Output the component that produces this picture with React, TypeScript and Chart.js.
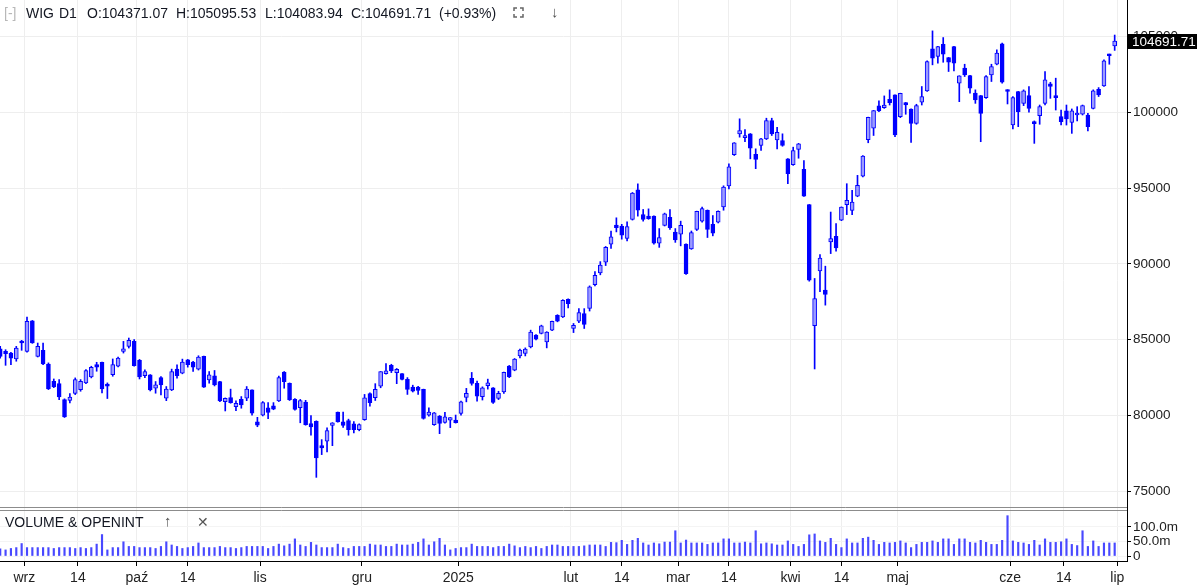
import React, { useEffect, useRef } from 'react';
import { Chart, registerables } from 'chart.js';

Chart.register(...registerables);

// Daily WIG candles, first candle = 26 Aug 2024, candle index 0 = 2 Sep 2024
const FIRST_INDEX = -5;

const OPEN = [
  84390, 84230, 84120, 83730, 84890, 84230, 86250, 83900, 84300, 83400,
  82260, 82100, 81050, 80990, 81450, 81710, 82150, 82540, 83360, 83510,
  82080, 82700, 83250, 84230, 84560, 84890, 83640, 82620, 82680, 81800,
  82500, 81140, 81690, 83060, 82800, 83680, 83520, 83060, 83900, 82350,
  82620, 82240, 80920, 81180, 80590, 81070, 81140, 81690, 79590, 80030,
  80500, 80630, 80960, 82860, 82130, 81060, 80510, 80880, 79470, 79620,
  78010, 78300, 79340, 80220, 79580, 79670, 79450, 79070, 79730, 81440,
  81170, 81940, 82760, 83310, 82830, 82760, 82380, 81870, 81870, 81720,
  80020, 79400, 79970, 79550, 79700, 79700, 80140, 81200, 82450, 82120,
  81240, 81960, 81830, 81130, 81560, 83260, 82990, 83930, 84090, 84530,
  85300, 85410, 84860, 85630, 86610, 86500, 87670, 85740, 86220, 86720,
  87070, 88630, 89410, 90110, 91300, 92560, 92500, 91680, 92930, 94890,
  93260, 93150, 93150, 91370, 92540, 93080, 92100, 91960, 91300, 90980,
  92280, 92820, 93540, 92610, 92760, 93760, 95150, 97200, 98580, 98320,
  98580, 97220, 97810, 98250, 99450, 98180, 98140, 96930, 96540, 97550,
  96230, 93910, 85920, 89540, 88270, 91450, 91820, 92880, 93910, 93530,
  94470, 95790, 98200, 98950, 100420, 100310, 100860, 101150, 99710, 100640,
  100220, 99270, 100660, 101410, 104190, 103680, 104490, 103610, 104340, 101920,
  102910, 102420, 101260, 101100, 100970, 102470, 103170, 104520, 101480, 99160,
  101370, 100590, 101100, 99380, 99780, 100590, 101870, 101040, 99710, 100090,
  99340, 99820, 99870, 99820, 100260, 101520, 101740, 103830, 104371.07,
];

const HIGH = [
  84560, 84340, 84170, 84560, 84960, 86490, 86270, 84780, 84780, 83470,
  82410, 82370, 81100, 81450, 82480, 82370, 83030, 83250, 83510, 83530,
  82150, 83730, 83860, 84890, 85110, 85000, 83700, 83010, 82700, 82240,
  82570, 81910, 83060, 83350, 83720, 83700, 83570, 83940, 83920, 82900,
  82970, 82260, 81160, 81740, 80960, 81250, 81910, 81700, 79880, 80920,
  80850, 80850, 82600, 82900, 82150, 81120, 81060, 81000, 80000, 79650,
  78410, 79190, 79530, 80230, 80220, 79760, 79600, 79450, 81390, 81500,
  82100, 82900, 83420, 83380, 83100, 82770, 82500, 82000, 81930, 81740,
  80510, 80200, 80000, 80210, 79870, 80030, 80950, 81790, 82840, 82270,
  81890, 82400, 81850, 81600, 82860, 83300, 83760, 84380, 84460, 85630,
  85340, 85960, 85530, 86230, 86650, 87640, 87700, 86070, 87050, 87050,
  88550, 89500, 90150, 91150, 92170, 93040, 92610, 92780, 94710, 95280,
  93590, 93630, 93170, 92330, 93350, 93590, 92330, 92820, 91320, 92170,
  93480, 93740, 93560, 93190, 93500, 95150, 96600, 98000, 99570, 98860,
  98600, 97590, 98290, 99610, 99610, 99010, 98580, 96950, 97700, 97950,
  96820, 93920, 89040, 90620, 89850, 93420, 92660, 93760, 95290, 94850,
  95840, 97150, 99680, 100120, 100750, 101080, 101480, 101160, 101260, 100650,
  100230, 100530, 101700, 103390, 105370, 104350, 104930, 103620, 104350, 102410,
  103170, 102430, 101480, 101110, 102420, 103170, 104120, 104560, 101490, 101040,
  101380, 101480, 101700, 99430, 100480, 102690, 101980, 102250, 100150, 100480,
  100220, 100370, 100480, 99930, 101480, 101630, 103460, 103840, 105095.53,
];

const LOW = [
  83790, 83310, 83360, 83580, 84300, 84170, 84760, 83860, 83360, 81710,
  81840, 81050, 79870, 80830, 81380, 81600, 82100, 82480, 82920, 81490,
  81120, 82590, 83200, 84120, 84450, 83250, 82410, 82500, 81620, 81470,
  81360, 80980, 81640, 82460, 82750, 83190, 82900, 83000, 81850, 82130,
  81950, 80920, 80300, 80810, 80320, 80480, 80980, 80030, 79260, 79970,
  79790, 80380, 80920, 81800, 80990, 80350, 79520, 79360, 78700, 75920,
  77420, 77600, 78010, 79560, 79220, 78700, 78850, 78990, 79680, 80620,
  80990, 81830, 82720, 82830, 82100, 82350, 81390, 81550, 81390, 79760,
  79950, 79350, 78800, 79500, 79200, 79500, 80030, 80900, 82000, 80950,
  81020, 81740, 80800, 81050, 81460, 82500, 82950, 83800, 83930, 84460,
  84990, 85380, 84460, 85600, 86180, 86460, 87090, 85470, 86130, 85740,
  86890, 88550, 89280, 89890, 91020, 92110, 91630, 91520, 92890, 93150,
  92820, 92940, 91300, 91090, 92500, 92280, 91420, 91190, 89300, 90960,
  92200, 92760, 91740, 91850, 92700, 93540, 94950, 97150, 98360, 98070,
  96930, 96280, 97480, 98200, 98470, 97590, 97760, 95290, 96500, 96970,
  94450, 88860, 83070, 88160, 87280, 90680, 90840, 92850, 93250, 93250,
  94430, 95740, 97990, 98470, 100040, 100260, 100480, 98390, 99650, 99870,
  98020, 99210, 100480, 101370, 103130, 103240, 103300, 102690, 102730, 100700,
  102360, 101260, 100590, 98060, 100920, 102030, 103130, 101920, 100550, 98900,
  99050, 100440, 100000, 97950, 99210, 100480, 100920, 100150, 99160, 99160,
  98610, 99430, 99820, 98770, 100220, 101040, 101700, 103170, 104083.94,
];

const CLOSE = [
  83900, 84080, 83790, 84450, 84780, 86210, 84780, 84560, 83400, 81750,
  81890, 81230, 79910, 81210, 82370, 82260, 82960, 83180, 83180, 81750,
  81930, 83360, 83790, 84390, 84960, 83290, 82540, 82900, 81690, 82020,
  82020, 81740, 82900, 82620, 83520, 83350, 83190, 83850, 81870, 82680,
  82020, 80960, 81140, 80850, 80810, 80700, 81740, 80150, 79370, 80850,
  80200, 80410, 82500, 82240, 81050, 80400, 80990, 79400, 79250, 77200,
  77860, 79010, 79520, 79580, 79340, 79070, 79070, 79400, 81170, 80840,
  81720, 82890, 82940, 82940, 83050, 82380, 81720, 81610, 81660, 79800,
  80220, 80180, 79480, 79920, 79860, 79530, 80900, 81460, 82120, 81280,
  81830, 82160, 80870, 81460, 82840, 82550, 83720, 84310, 84380, 85510,
  85030, 85910, 85510, 86220, 86220, 87600, 87380, 85950, 86790, 86000,
  88480, 89240, 89930, 91090, 91780, 92390, 91890, 92460, 94670, 93540,
  92930, 92980, 91370, 91740, 93310, 92390, 91580, 92540, 89350, 92070,
  93470, 93650, 92280, 92020, 93470, 95070, 96400, 97990, 98800, 98470,
  97630, 96890, 98250, 99450, 98580, 98680, 97810, 95950, 97480, 97920,
  94470, 88930, 87720, 90390, 87980, 91670, 91050, 93750, 94190, 94080,
  95180, 97110, 99670, 100110, 100090, 100480, 100640, 98500, 101250, 100480,
  99270, 100440, 101040, 103350, 103570, 104340, 103830, 103300, 103240, 102400,
  102470, 101590, 100810, 99930, 102360, 103020, 103900, 101980, 101370, 100970,
  100040, 101410, 100260, 99250, 100370, 102140, 101700, 100970, 99380, 99560,
  100090, 99930, 100440, 99050, 101410, 101150, 103390, 103730, 104691.71,
];

// volume in millions
const VOLUME_M = [
  25, 21, 26, 29, 43, 29, 29, 29, 29, 29,
  26, 29, 29, 29, 26, 29, 26, 29, 41, 74,
  21, 29, 29, 49, 33, 33, 29, 29, 29, 26,
  33, 49, 38, 33, 26, 29, 33, 45, 29, 29,
  29, 33, 29, 29, 26, 29, 33, 33, 33, 33,
  26, 33, 41, 35, 41, 59, 38, 33, 47, 38,
  29, 29, 29, 41, 29, 26, 33, 33, 33, 41,
  38, 38, 33, 33, 41, 38, 38, 41, 47, 59,
  38, 49, 61, 38, 21, 26, 29, 29, 41, 33,
  33, 33, 29, 33, 33, 41, 35, 29, 33, 29,
  33, 26, 33, 38, 38, 33, 33, 33, 33, 35,
  38, 38, 38, 33, 47, 46, 54, 40, 54, 61,
  45, 38, 45, 42, 48, 48, 87, 45, 55, 45,
  45, 45, 40, 45, 45, 59, 59, 45, 45, 48,
  45, 87, 42, 45, 42, 38, 38, 52, 40, 33,
  40, 73, 76, 52, 47, 61, 40, 29, 59, 45,
  45, 61, 65, 54, 40, 47, 45, 47, 52, 45,
  29, 40, 47, 47, 52, 47, 59, 59, 40, 59,
  59, 47, 45, 54, 47, 40, 40, 54, 139, 52,
  47, 45, 40, 54, 38, 59, 47, 47, 49, 59,
  40, 36, 87, 33, 52, 33, 45, 45, 45,
];

const X_TICK_POS = [-0.5, 9.5, 20.5, 30, 43.5, 62.5, 80.5, 101.5, 111, 121.5, 131, 142.5, 152, 162.5, 183.5, 193.5, 203.5];
const X_TICK_LABELS = ['wrz', '14', 'paź', '14', 'lis', 'gru', '2025', 'lut', '14', 'mar', '14', 'kwi', '14', 'maj', 'cze', '14', 'lip'];
const PRICE_TICKS = [75000, 80000, 85000, 90000, 95000, 100000, 105000];
const VOLUME_TICKS = [0, 50, 100];

const FONT = '"Liberation Sans", Arial, sans-serif';
const BLUE = '#0000ff';
const HOLLOW = '#9c9cff';
const VOL_COLOR = '#4848ff';
const GRID = '#eeeeee';

export default function App() {
  const ref = useRef<HTMLCanvasElement | null>(null);

  useEffect(() => {
    if (!ref.current) return;
    const xs = OPEN.map((_, k) => FIRST_INDEX + k);
    const wicks = xs.map((x, k) => ({ x, y: [LOW[k], HIGH[k]] }));
    const bodies = xs.map((x, k) => ({ x, y: [OPEN[k], CLOSE[k]] }));
    const bodyColors = OPEN.map((o, k) => (CLOSE[k] >= o ? HOLLOW : BLUE));
    const vols = xs.map((x, k) => ({ x, y: VOLUME_M[k] }));
    const last = CLOSE.length - 1;

    const overlay = {
      id: 'overlay',
      afterDraw(chart: any) {
        const { ctx, chartArea, scales } = chart;
        const yv = scales.yv;
        ctx.save();
        ctx.strokeStyle = '#8c8c8c';
        ctx.lineWidth = 1;
        [Math.round(yv.top) - 1.5, Math.round(yv.top) + 1.5].forEach((y) => {
          ctx.beginPath();
          ctx.moveTo(0, y);
          ctx.lineTo(chartArea.right, y);
          ctx.stroke();
        });
        const v = CLOSE[last];
        const y = scales.y.getPixelForValue(v);
        ctx.fillStyle = '#000';
        ctx.fillRect(chartArea.right, Math.round(y) - 7, 70, 15);
        ctx.fillStyle = '#fff';
        ctx.font = '13.5px ' + FONT;
        ctx.textBaseline = 'middle';
        ctx.textAlign = 'left';
        ctx.fillText(v.toFixed(2), chartArea.right + 5, Math.round(y) + 1);
        ctx.restore();
      },
    };

    const tickFont = { family: FONT, size: 13.5 };
    const chart = new Chart(ref.current, {
      type: 'bar',
      data: {
        datasets: [
          {
            label: 'wick',
            data: wicks as any,
            yAxisID: 'y',
            backgroundColor: BLUE,
            barThickness: 1,
            grouped: false,
            order: 2,
          } as any,
          {
            label: 'body',
            data: bodies as any,
            yAxisID: 'y',
            backgroundColor: bodyColors,
            borderColor: BLUE,
            borderWidth: 1,
            borderSkipped: false,
            barThickness: 4,
            minBarLength: 2,
            grouped: false,
            order: 1,
          } as any,
          {
            label: 'volume',
            data: vols as any,
            yAxisID: 'yv',
            backgroundColor: VOL_COLOR,
            barThickness: 1.5,
            grouped: false,
            order: 3,
          } as any,
        ],
      },
      options: {
        animation: false,
        responsive: false,
        maintainAspectRatio: false,
        layout: { padding: 0 },
        plugins: { legend: { display: false }, tooltip: { enabled: false } },
        scales: {
          x: {
            type: 'linear',
            position: 'bottom',
            min: -5.04,
            max: 205.3,
            offset: false,
            afterBuildTicks: (s: any) => {
              s.ticks = X_TICK_POS.map((value) => ({ value }));
            },
            afterFit: (s: any) => {
              s.height = 26;
              s.paddingLeft = 0;
              s.paddingRight = 0;
            },
            ticks: {
              autoSkip: false,
              maxRotation: 0,
              padding: 4,
              color: '#222',
              font: { family: FONT, size: 14 },
              callback: (_v: any, i: number) => X_TICK_LABELS[i],
            },
            grid: { color: GRID, tickColor: '#000', tickLength: 5, offset: false },
            border: { color: '#000' },
          } as any,
          y: {
            type: 'linear',
            position: 'right',
            stack: 'panels',
            stackWeight: 509,
            min: 73833,
            max: 107407,
            beginAtZero: false,
            afterBuildTicks: (s: any) => {
              s.ticks = PRICE_TICKS.map((value) => ({ value }));
            },
            afterFit: (s: any) => {
              s.width = 73;
              s.paddingTop = 0;
              s.paddingBottom = 0;
            },
            ticks: { autoSkip: false, padding: 2, color: '#222', font: tickFont, callback: (v: any) => String(v) },
            grid: { color: GRID, tickColor: '#000', tickLength: 4 },
            border: { color: '#000' },
          } as any,
          yv: {
            type: 'linear',
            position: 'right',
            stack: 'panels',
            stackWeight: 52,
            min: -17.2,
            max: 162,
            beginAtZero: false,
            afterBuildTicks: (s: any) => {
              s.ticks = VOLUME_TICKS.map((value) => ({ value }));
            },
            afterFit: (s: any) => {
              s.width = 73;
              s.paddingTop = 0;
              s.paddingBottom = 0;
            },
            ticks: {
              autoSkip: false,
              padding: 2,
              color: '#222',
              font: tickFont,
              callback: (v: any) => (v === 0 ? '0' : Number(v).toFixed(1) + 'm'),
            },
            grid: { color: '#f4f4f4', tickColor: '#000', tickLength: 4 },
            border: { color: '#000' },
          } as any,
        },
      },
      plugins: [overlay],
    });
    return () => chart.destroy();
  }, []);

  const last = CLOSE.length - 1;
  const pct = ((CLOSE[last] - CLOSE[last - 1]) / CLOSE[last - 1]) * 100;
  const txt: React.CSSProperties = {
    position: 'absolute',
    fontFamily: FONT,
    fontSize: 14,
    lineHeight: '16px',
    color: '#131722',
    whiteSpace: 'pre',
  };

  return (
    <div style={{ position: 'fixed', left: 0, top: 0, width: 1200, height: 587, background: '#fff', overflow: 'hidden' }}>
      <canvas ref={ref} width={1200} height={587} style={{ position: 'absolute', left: 0, top: 0, width: 1200, height: 587 }} />
      <span style={{ ...txt, left: 4, top: 5, color: '#b8b8b8' }}>[-]</span>
      <span style={{ ...txt, left: 26, top: 5 }}>WIG</span>
      <span style={{ ...txt, left: 59, top: 5 }}>D1</span>
      <span style={{ ...txt, left: 87, top: 5 }}>{'O:' + OPEN[last].toFixed(2)}</span>
      <span style={{ ...txt, left: 176, top: 5 }}>{'H:' + HIGH[last].toFixed(2)}</span>
      <span style={{ ...txt, left: 265, top: 5 }}>{'L:' + LOW[last].toFixed(2)}</span>
      <span style={{ ...txt, left: 351, top: 5 }}>{'C:' + CLOSE[last].toFixed(2)}</span>
      <span style={{ ...txt, left: 439, top: 5 }}>{'(' + (pct >= 0 ? '+' : '') + pct.toFixed(2) + '%)'}</span>
      <svg style={{ position: 'absolute', left: 513, top: 7 }} width={11} height={11} viewBox="0 0 11 11">
        <path d="M1 4V1H4 M7 1H10V4 M10 7V10H7 M4 10H1V7" fill="none" stroke="#666" strokeWidth={1.5} />
      </svg>
      <span style={{ ...txt, left: 551, top: 4, fontSize: 15, color: '#555' }}>↓</span>
      <span style={{ ...txt, left: 5, top: 514 }}>VOLUME &amp; OPENINT</span>
      <span style={{ ...txt, left: 164, top: 513, fontSize: 15, color: '#555' }}>↑</span>
      <span style={{ ...txt, left: 197, top: 514, fontSize: 14, color: '#555' }}>✕</span>
    </div>
  );
}
